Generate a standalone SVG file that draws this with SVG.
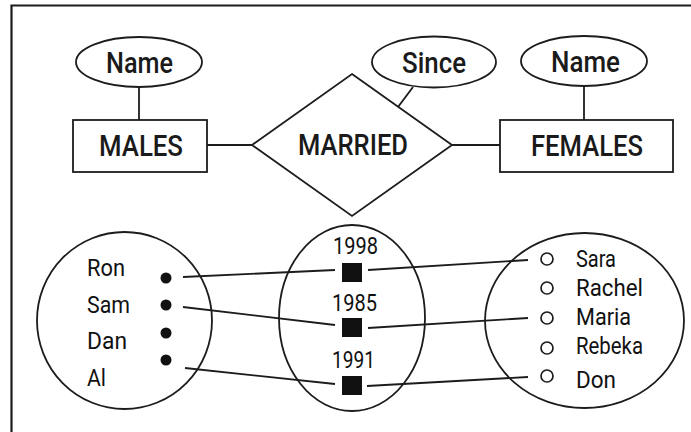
<svg xmlns="http://www.w3.org/2000/svg" width="691" height="432" viewBox="0 0 691 432">
  <style>
    .shape { fill: #ffffff; stroke: #1c1c1c; stroke-width: 1.8; }
    .line { fill: none; stroke: #1c1c1c; stroke-width: 1.8; }
    .big { font-family: Roboto, "Liberation Sans", sans-serif; font-size: 30px; font-weight: 500; fill: #1a1a1a; }
    .small { font-family: Roboto, "Liberation Sans", sans-serif; font-size: 23px; font-weight: 400; fill: #111111; }
    .dot { fill: #111111; }
    .ring { fill: #ffffff; stroke: #1c1c1c; stroke-width: 1.7; }
    .sq { fill: #111111; }
  </style>
  <rect width="691" height="432" fill="#ffffff"/>
  <!-- frame -->
  <path d="M691,5.5 H11.5 V432" fill="none" stroke="#1c1c1c" stroke-width="2.2"/>

  <!-- connectors -->
  <g id="connectors">
    <line class="line" x1="139" y1="87" x2="139" y2="120"/>
    <line class="line" x1="584" y1="86" x2="584" y2="120"/>
    <line class="line" x1="413" y1="87" x2="398" y2="107"/>
    <line class="line" x1="207" y1="145" x2="252" y2="145"/>
    <line class="line" x1="452" y1="145" x2="500" y2="145"/>
    <line class="line" x1="183" y1="277" x2="335" y2="270"/>
    <line class="line" x1="183" y1="307" x2="335" y2="325"/>
    <line class="line" x1="185" y1="368" x2="335" y2="384"/>
    <line class="line" x1="368" y1="270" x2="528" y2="260"/>
    <line class="line" x1="368" y1="328" x2="528" y2="318"/>
    <line class="line" x1="367" y1="386" x2="528" y2="377"/>
  </g>

  <g id="attr-male-name">
    <ellipse class="shape" cx="139" cy="62" rx="63" ry="25"/>
    <text class="big" x="106" y="73" textLength="67" lengthAdjust="spacingAndGlyphs">Name</text>
  </g>
  <g id="attr-since">
    <ellipse class="shape" cx="434" cy="62" rx="62" ry="25.5"/>
    <text class="big" x="402" y="73" textLength="64" lengthAdjust="spacingAndGlyphs">Since</text>
  </g>
  <g id="attr-female-name">
    <ellipse class="shape" cx="584" cy="61" rx="63" ry="25"/>
    <text class="big" x="551" y="72" textLength="69" lengthAdjust="spacingAndGlyphs">Name</text>
  </g>
  <g id="entity-males">
    <rect class="shape" x="73" y="120" width="134" height="52"/>
    <text class="big" x="99" y="156" textLength="84" lengthAdjust="spacingAndGlyphs">MALES</text>
  </g>
  <g id="relation-married">
    <polygon class="shape" points="352,74 452,145 352,216 252,145"/>
    <text class="big" x="298" y="155" textLength="110" lengthAdjust="spacingAndGlyphs">MARRIED</text>
  </g>
  <g id="entity-females">
    <rect class="shape" x="500" y="120" width="173" height="52"/>
    <text class="big" x="531" y="156" textLength="112" lengthAdjust="spacingAndGlyphs">FEMALES</text>
  </g>

  <g id="set-males">
    <ellipse class="line" cx="124.5" cy="320.5" rx="87.5" ry="88.5"/>
    <text class="small" x="87" y="276" textLength="38" lengthAdjust="spacingAndGlyphs">Ron</text>
    <text class="small" x="87" y="313" textLength="43" lengthAdjust="spacingAndGlyphs">Sam</text>
    <text class="small" x="87" y="349" textLength="40" lengthAdjust="spacingAndGlyphs">Dan</text>
    <text class="small" x="87" y="386" textLength="19" lengthAdjust="spacingAndGlyphs">Al</text>
    <circle class="dot" cx="166" cy="278" r="5.5"/>
    <circle class="dot" cx="166" cy="305" r="5.5"/>
    <circle class="dot" cx="166" cy="333" r="5.5"/>
    <circle class="dot" cx="166" cy="360" r="5.5"/>
  </g>
  <g id="set-marriages">
    <ellipse class="line" cx="352" cy="318" rx="73" ry="93"/>
    <text class="small" x="333" y="254" textLength="45" lengthAdjust="spacingAndGlyphs">1998</text>
    <text class="small" x="332" y="311" textLength="45" lengthAdjust="spacingAndGlyphs">1985</text>
    <text class="small" x="332" y="368" textLength="43" lengthAdjust="spacingAndGlyphs">1991</text>
    <rect class="sq" x="342" y="263" width="20" height="19"/>
    <rect class="sq" x="342" y="318" width="20" height="19"/>
    <rect class="sq" x="342" y="376" width="20" height="19"/>
  </g>
  <g id="set-females">
    <ellipse class="line" cx="584.5" cy="320.5" rx="99.5" ry="87.5"/>
    <circle class="ring" cx="547" cy="259" r="6"/>
    <circle class="ring" cx="547" cy="288" r="6"/>
    <circle class="ring" cx="547" cy="318" r="6"/>
    <circle class="ring" cx="547" cy="348" r="6"/>
    <circle class="ring" cx="547" cy="376" r="6"/>
    <text class="small" x="576" y="267" textLength="40" lengthAdjust="spacingAndGlyphs">Sara</text>
    <text class="small" x="576" y="296" textLength="67" lengthAdjust="spacingAndGlyphs">Rachel</text>
    <text class="small" x="576" y="325" textLength="55" lengthAdjust="spacingAndGlyphs">Maria</text>
    <text class="small" x="576" y="354" textLength="67" lengthAdjust="spacingAndGlyphs">Rebeka</text>
    <text class="small" x="576" y="388" textLength="40" lengthAdjust="spacingAndGlyphs">Don</text>
  </g>
</svg>
